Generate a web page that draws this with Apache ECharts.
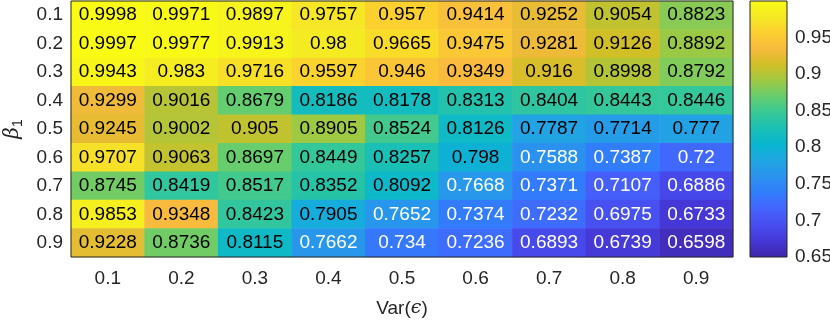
<!DOCTYPE html>
<html>
<head>
<meta charset="utf-8">
<style>
  html, body { margin: 0; padding: 0; background: #fff; }
  #chart { width: 830px; height: 321px; }
</style>
<script src="https://cdn.jsdelivr.net/npm/echarts@6/dist/echarts.min.js"></script>
</head>
<body>
<div id="chart"></div>
<script>
// Var(eps) along x, beta_1 along y
const xCats = ['0.1', '0.2', '0.3', '0.4', '0.5', '0.6', '0.7', '0.8', '0.9']
const yCats = ['0.1', '0.2', '0.3', '0.4', '0.5', '0.6', '0.7', '0.8', '0.9']
// one row per beta_1
const values = [
  [0.9998, 0.9971, 0.9897, 0.9757, 0.957, 0.9414, 0.9252, 0.9054, 0.8823],
  [0.9997, 0.9977, 0.9913, 0.98, 0.9665, 0.9475, 0.9281, 0.9126, 0.8892],
  [0.9943, 0.983, 0.9716, 0.9597, 0.946, 0.9349, 0.916, 0.8998, 0.8792],
  [0.9299, 0.9016, 0.8679, 0.8186, 0.8178, 0.8313, 0.8404, 0.8443, 0.8446],
  [0.9245, 0.9002, 0.905, 0.8905, 0.8524, 0.8126, 0.7787, 0.7714, 0.777],
  [0.9707, 0.9063, 0.8697, 0.8449, 0.8257, 0.798, 0.7588, 0.7387, 0.72],
  [0.8745, 0.8419, 0.8517, 0.8352, 0.8092, 0.7668, 0.7371, 0.7107, 0.6886],
  [0.9853, 0.9348, 0.8423, 0.7905, 0.7652, 0.7374, 0.7232, 0.6975, 0.6733],
  [0.9228, 0.8736, 0.8115, 0.7662, 0.734, 0.7236, 0.6893, 0.6739, 0.6598]
]
const colorMin = 0.65
const colorMax = 0.9998

// parula (R2017a+)
const parula = ['#3E26A8', '#4537D5', '#484DF0', '#4563FD', '#327CFC', '#2B91EF',
  '#20A5E3', '#08B5D0', '#19BFB6', '#37C897', '#64CD6F', '#9DC943', '#D1BF27',
  '#F8BA3D', '#FCCF30', '#F5E924', '#F9FB15']

const font = 'Liberation Sans, Arial, Helvetica, sans-serif'
const axisColor = '#262626'

const cells = []
values.forEach((row, yi) => {
  row.forEach((v, xi) => {
    cells.push({
      value: [xi, yi, v],
      label: { color: v < 0.77 ? '#ffffff' : '#000000' }
    })
  })
})

const chart = echarts.init(document.getElementById('chart'))
chart.setOption({
  animation: false,
  textStyle: { fontFamily: font },
  grid: [
    {
      left: 71, top: 1, width: 662, height: 256, outerBoundsMode: 'none', containLabel: false,
      show: true, borderColor: axisColor, borderWidth: 1, backgroundColor: 'transparent', z: 3
    },
    {
      left: 750, top: 1, width: 37, height: 256, outerBoundsMode: 'none', containLabel: false,
      show: true, borderColor: axisColor, borderWidth: 1,
      backgroundColor: new echarts.graphic.LinearGradient(0, 1, 0, 0,
        parula.map((c, i) => ({ offset: i / (parula.length - 1), color: c })))
    }
  ],
  xAxis: [
    {
      type: 'category', data: xCats, gridIndex: 0,
      axisLine: { show: false }, axisTick: { show: false }, splitLine: { show: false },
      axisLabel: { color: axisColor, fontSize: 19, margin: 12, fontFamily: font },
      name: 'Var({e|ϵ})', nameLocation: 'middle', nameGap: 42,
      nameTextStyle: {
        color: axisColor, fontSize: 19, fontFamily: font,
        rich: { e: { fontSize: 19, fontStyle: 'italic', fontFamily: 'DejaVu Serif, serif', color: axisColor } }
      }
    },
    {
      type: 'value', gridIndex: 1, min: 0, max: 1,
      axisLine: { show: false }, axisTick: { show: false }, axisLabel: { show: false }, splitLine: { show: false }
    }
  ],
  yAxis: [
    {
      type: 'category', data: yCats, gridIndex: 0, inverse: true,
      axisLine: { show: false }, axisTick: { show: false }, splitLine: { show: false },
      axisLabel: { color: axisColor, fontSize: 19, margin: 8, fontFamily: font },
      name: '{b|β}{s|1}', nameLocation: 'middle', nameGap: 46, nameRotate: 90,
      nameTextStyle: {
        color: axisColor,
        rich: {
          b: { fontSize: 20, fontStyle: 'italic', fontFamily: 'DejaVu Serif, serif', color: axisColor, lineHeight: 24 },
          s: { fontSize: 14, fontFamily: font, color: axisColor, verticalAlign: 'bottom' }
        }
      }
    },
    {
      type: 'value', gridIndex: 1, position: 'right', min: colorMin, max: colorMax, interval: 0.05,
      axisLine: { show: false }, splitLine: { show: false },
      axisTick: { show: false },
      axisLabel: {
        color: axisColor, fontSize: 19, margin: 8, fontFamily: font, showMaxLabel: false,
        formatter: v => String(+v.toFixed(2))
      }
    }
  ],
  visualMap: {
    show: false, type: 'continuous', min: colorMin, max: colorMax, dimension: 2,
    seriesIndex: 0, inRange: { color: parula }
  },
  series: [{
    type: 'heatmap',
    xAxisIndex: 0,
    yAxisIndex: 0,
    data: cells,
    label: {
      show: true, fontSize: 19, fontFamily: font,
      formatter: p => String(p.value[2])
    },
    emphasis: { disabled: true }
  }]
})
</script>
</body>
</html>
